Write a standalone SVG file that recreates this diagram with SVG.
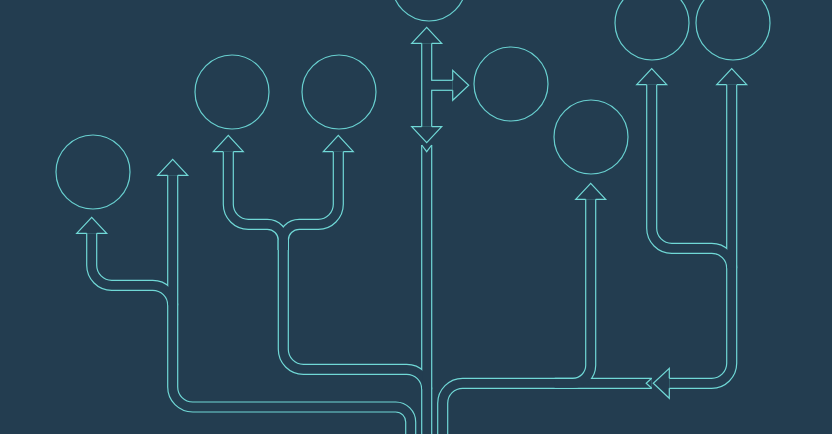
<svg xmlns="http://www.w3.org/2000/svg" width="832" height="434" viewBox="0 0 832 434">
<style>
.o{fill:none;stroke:#70d8d6;stroke-width:11.2;stroke-linecap:butt;stroke-linejoin:miter}
.i{fill:none;stroke:#233d50;stroke-width:8.8;stroke-linecap:butt;stroke-linejoin:miter}
.h{fill:none;stroke:#70d8d6;stroke-width:1.2;stroke-linejoin:miter}
.n{fill:none;stroke:#68cfcf;stroke-width:1.2}
</style>
<defs>
<g id="pipes">
<path d="M91.7,233.3 V265.3 A20,20 0 0 0 111.7,285.3 H152.7 A20,20 0 0 1 172.7,305.3"/>
<path d="M172.7,175.3 V387 A20,20 0 0 0 192.7,407 H395.7 A15,15 0 0 1 410.7,422 V440"/>
<path d="M228.3,151.7 V204.3 A20,20 0 0 0 248.3,224.3 H267.3 A16,16 0 0 1 283.3,240.3 V250"/>
<path d="M338.3,151.7 V204.3 A20,20 0 0 1 318.3,224.3 H299.3 A16,16 0 0 0 283.3,240.3 V250"/>
<path d="M283.3,240 V349.3 A20,20 0 0 0 303.3,369.3 H406.7 A20,20 0 0 1 426.7,389.3"/>
<path d="M426.7,145 V440"/>
<path d="M426.7,43.3 V126.7"/>
<path d="M426.7,85.3 H452.7"/>
<path d="M442.7,440 V403.3 A20,20 0 0 1 462.7,383.3 H651.7"/>
<path d="M554.7,383.3 H572.7 A18,18 0 0 0 590.7,365.3 V199.3"/>
<path d="M731.7,84.7 V363.3 A20,20 0 0 1 711.7,383.3 H669.3"/>
<path d="M651.7,84.7 V228.3 A20,20 0 0 0 671.7,248.3 H711.7 A20,20 0 0 1 731.7,268.3"/>
</g>
</defs>
<rect width="832" height="434" fill="#233d50"/>
<g id="connectors">
<use href="#pipes" class="o"/>
<use href="#pipes" class="i"/>
<g class="h">
<polyline points="86.7,233.3 76.7,233.3 91.7,217.3 106.7,233.3 96.7,233.3"/>
<polyline points="167.7,175.3 157.7,175.3 172.7,159.3 187.7,175.3 177.7,175.3"/>
<polyline points="223.3,151.7 213.3,151.7 228.3,135.3 243.3,151.7 233.3,151.7"/>
<polyline points="333.3,151.7 323.3,151.7 338.3,135.3 353.3,151.7 343.3,151.7"/>
<polyline points="421.7,43.3 411.7,43.3 426.7,27.3 441.7,43.3 431.7,43.3"/>
<polyline points="421.7,126.7 411.7,126.7 426.7,142.7 441.7,126.7 431.7,126.7"/>
<polyline points="452.7,80.3 452.7,70.3 468.7,85.3 452.7,100.3 452.7,90.3"/>
<polyline points="421.7,145 426.7,151.7 431.7,145"/>
<polyline points="585.7,199.3 575.7,199.3 590.7,183.3 605.7,199.3 595.7,199.3"/>
<polyline points="651.7,378.3 646.2,383.3 651.7,388.3"/>
<polyline points="669.3,378.3 669.3,368.3 653.3,383.3 669.3,398.3 669.3,388.3"/>
<polyline points="646.7,84.7 636.7,84.7 651.7,68.7 666.7,84.7 656.7,84.7"/>
<polyline points="726.7,84.7 716.7,84.7 731.7,68.7 746.7,84.7 736.7,84.7"/>
</g>
</g>
<g id="node1"><circle class="n" cx="93" cy="172" r="37"/></g>
<g id="node2"><circle class="n" cx="232" cy="92" r="37"/></g>
<g id="node3"><circle class="n" cx="339" cy="92" r="37"/></g>
<g id="node4"><circle class="n" cx="429" cy="-16" r="37"/></g>
<g id="node5"><circle class="n" cx="511" cy="84" r="37"/></g>
<g id="node6"><circle class="n" cx="591" cy="137" r="37"/></g>
<g id="node7"><circle class="n" cx="652" cy="23" r="37"/></g>
<g id="node8"><circle class="n" cx="733" cy="23" r="37"/></g>
</svg>
